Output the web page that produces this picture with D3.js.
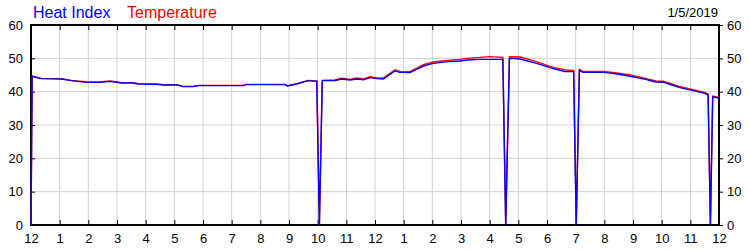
<!DOCTYPE html>
<html>
<head>
<meta charset="utf-8">
<script src="https://cdn.jsdelivr.net/npm/d3@7"></script>
<style>
  body { margin: 0; background: #fff; }
  svg { display: block; font-family: Arial, "Liberation Sans", sans-serif; }
  .axis text { font-size: 13px; fill: #000; }
  .axis line { stroke: #000; }
</style>
</head>
<body>
<div id="chart"></div>
<script>
// time of day in hours after midnight
var hours = [0.00, 0.04, 0.35, 1.05, 1.40, 1.95, 2.40, 2.76, 3.16, 3.55, 3.75, 4.40, 4.60, 5.10, 5.30, 5.65,
  5.85, 7.40, 7.50, 8.86, 8.95, 9.27, 9.67, 9.97, 10.06, 10.16, 10.60, 10.84, 11.13, 11.36, 11.60, 11.83,
  12.06, 12.29, 12.70, 12.87, 13.22, 13.69, 14.03, 14.33, 14.55, 14.97, 15.20, 15.66, 16.00, 16.46, 16.56,
  16.69, 17.06, 17.64, 18.10, 18.28, 18.63, 18.93, 19.02, 19.13, 19.26, 20.00, 20.45, 20.86, 21.44, 21.79,
  22.08, 22.36, 22.60, 23.06, 23.50, 23.62, 23.70, 23.78, 24.00];

var heatIndex = [0, 44.6, 43.9, 43.8, 43.3, 42.8, 42.8, 43.1, 42.6, 42.6, 42.3, 42.2, 42.0, 42.0, 41.5, 41.5,
  41.8, 41.8, 42.1, 42.1, 41.7, 42.3, 43.3, 43.1, 0, 43.3, 43.3, 43.8, 43.5, 43.8, 43.6, 44.2,
  43.9, 43.8, 46.2, 45.8, 45.7, 47.7, 48.5, 48.8, 49.0, 49.2, 49.5, 49.7, 49.7, 49.7, 0,
  50.0, 49.8, 48.5, 47.2, 46.8, 46.0, 46.0, 0, 46.3, 45.8, 45.8, 45.3, 44.7, 43.7, 42.9,
  42.8, 42.0, 41.3, 40.4, 39.5, 39.0, 0, 38.4, 38.1];

var temperature = [0, 44.7, 44.0, 43.9, 43.4, 42.9, 42.9, 43.2, 42.7, 42.7, 42.4, 42.3, 42.1, 42.1, 41.6, 41.6,
  41.9, 41.9, 42.2, 42.2, 41.8, 42.4, 43.4, 43.2, 0, 43.4, 43.5, 44.0, 43.7, 44.1, 43.8, 44.5,
  44.1, 44.1, 46.6, 46.1, 46.0, 48.1, 48.9, 49.2, 49.4, 49.7, 50.0, 50.3, 50.5, 50.3, 0,
  50.5, 50.4, 49.0, 47.6, 47.2, 46.5, 46.4, 0, 46.7, 46.1, 46.1, 45.6, 45.1, 44.0, 43.2,
  43.1, 42.3, 41.6, 40.7, 39.8, 39.3, 0, 38.7, 38.3];

var hourTicks = d3.range(0, 25);
var valueTicks = [0, 10, 20, 30, 40, 50, 60];
var dateLabel = "1/5/2019";

var width = 750, height = 250;
var plotLeft = 31, plotRight = 719, plotTop = 25, plotBottom = 225;

var svg = d3.select('#chart')
  .append('svg')
  .attr('width', width)
  .attr('height', height);

var x = d3.scaleLinear().domain([0, 24]).range([plotLeft, plotRight]);
var y = d3.scaleLinear().domain([0, 60]).range([plotBottom, plotTop]);

//grid
svg.append('g')
  .selectAll('line')
  .data(hourTicks.slice(1, -1))
  .enter().append('line')
  .attr('x1', d => x(d)).attr('x2', d => x(d))
  .attr('y1', plotTop).attr('y2', plotBottom)
  .attr('stroke', '#d0d0d0').attr('stroke-width', 1);

svg.append('g')
  .selectAll('line')
  .data(valueTicks.slice(1, -1))
  .enter().append('line')
  .attr('x1', plotLeft).attr('x2', plotRight)
  .attr('y1', d => y(d)).attr('y2', d => y(d))
  .attr('stroke', '#d0d0d0').attr('stroke-width', 1);

//axes
var hourFormat = h => String((h % 12) || 12);

svg.append('g').attr('class', 'axis')
  .attr('transform', 'translate(0,' + plotBottom + ')')
  .call(d3.axisBottom(x).tickValues(hourTicks).tickFormat(hourFormat)
    .tickSizeInner(-5).tickSizeOuter(0).tickPadding(9))
  .call(g => g.select('.domain').remove());

svg.append('g').attr('class', 'axis')
  .attr('transform', 'translate(0,' + plotTop + ')')
  .call(d3.axisTop(x).tickValues(hourTicks).tickFormat('')
    .tickSizeInner(-5).tickSizeOuter(0))
  .call(g => g.select('.domain').remove());

svg.append('g').attr('class', 'axis')
  .attr('transform', 'translate(' + plotLeft + ',0)')
  .call(d3.axisLeft(y).tickValues(valueTicks)
    .tickSizeInner(-4).tickSizeOuter(0).tickPadding(8))
  .call(g => g.select('.domain').remove());

svg.append('g').attr('class', 'axis')
  .attr('transform', 'translate(' + plotRight + ',0)')
  .call(d3.axisRight(y).tickValues(valueTicks)
    .tickSizeInner(4).tickSizeOuter(0).tickPadding(4))
  .call(g => g.select('.domain').remove());

//frame
svg.append('rect')
  .attr('x', plotLeft).attr('y', plotTop)
  .attr('width', plotRight - plotLeft).attr('height', plotBottom - plotTop)
  .attr('fill', 'none').attr('stroke', '#000').attr('stroke-width', 2);

//series
function seriesLine(values) {
  return d3.line()
    .x((d, i) => x(hours[i]))
    .y(d => y(d))(values);
}

svg.append('path')
  .attr('d', seriesLine(temperature))
  .attr('fill', 'none').attr('stroke', '#ff0000').attr('stroke-width', 1.4);

svg.append('path')
  .attr('d', seriesLine(heatIndex))
  .attr('fill', 'none').attr('stroke', '#0000ff').attr('stroke-width', 1.4);

//legend and date
svg.append('text').attr('x', 33).attr('y', 18)
  .attr('font-size', 16).attr('fill', '#0000ff').text('Heat Index');
svg.append('text').attr('x', 127).attr('y', 18)
  .attr('font-size', 16).attr('fill', '#ff0000').text('Temperature');
svg.append('text').attr('x', 718).attr('y', 17)
  .attr('font-size', 13).attr('fill', '#000').attr('text-anchor', 'end').text(dateLabel);
</script>
</body>
</html>
